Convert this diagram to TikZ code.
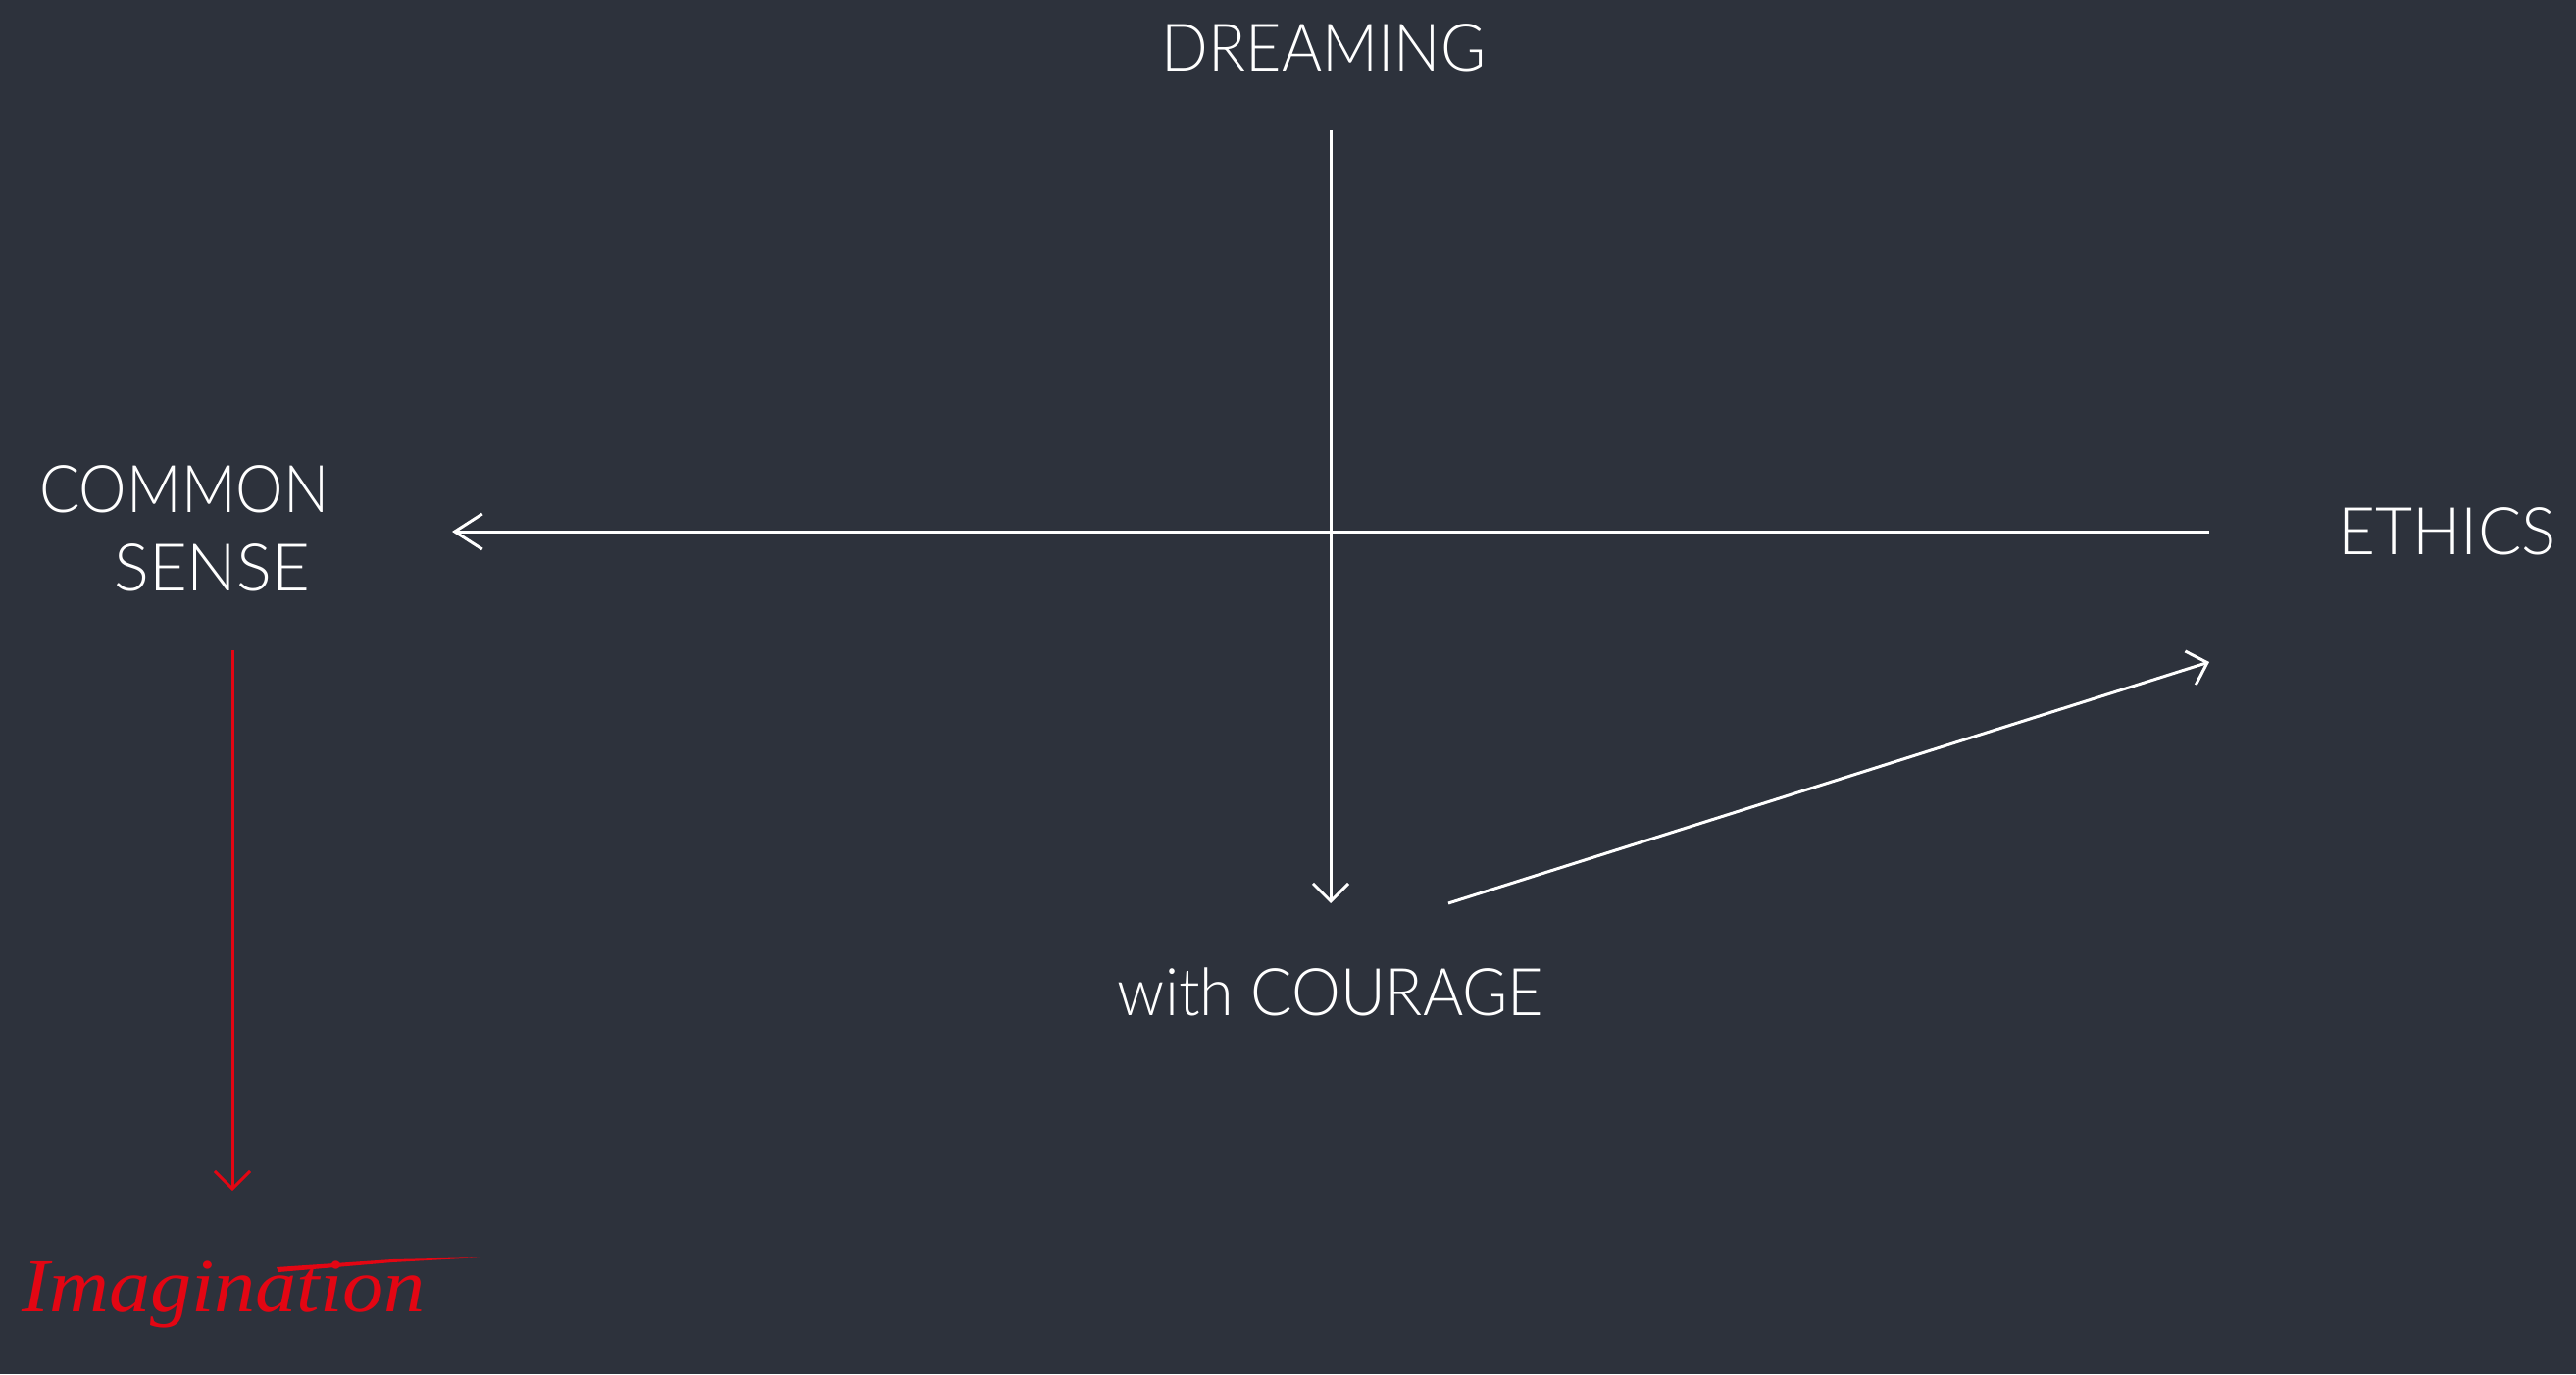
\documentclass[tikz,border=0pt]{standalone}
\usepackage{fontspec}
\setmainfont{Lato Light}
\newfontfamily\imgfont{Liberation Serif}
\usetikzlibrary{arrows.meta}
\definecolor{bg}{HTML}{2D323C}
\definecolor{imgred}{HTML}{E30613}
\tikzset{
  lbl/.style={text=white, inner sep=0pt, font=\fontsize{67}{82}\selectfont},
  wline/.style={draw=white, line width=3pt},
  rline/.style={draw=imgred, line width=3pt},
  tipA/.style={-{Straight Barb[length=18pt, width=36pt, line width=3pt]}},
  tipB/.style={-{Straight Barb[length=28pt, width=36pt, line width=3pt]}},
}
\begin{document}
\begin{tikzpicture}[x=1pt, y=-1pt]
\fill[bg] (0,0) rectangle (2627,1401);
\useasboundingbox (0,0) rectangle (2627,1401);

\node[lbl, anchor=base, xscale=0.937] (dream) at (1350,72) {DREAMING};
\node[lbl, anchor=base west, xscale=0.915] (common) at (40,522) {COMMON};
\node[lbl, anchor=base west] (sense) at (116,602) {SENSE};
\node[lbl, anchor=base west, xscale=0.98] (ethics) at (2384,565) {ETHICS};
\node[lbl, anchor=base, xscale=0.94] (courage) at (1357,1035) {with COURAGE};
\node[text=imgred, inner sep=0pt, anchor=base west, xscale=1.08,
      font=\imgfont\itshape\fontsize{78}{86}\selectfont] (imag) at (22,1337) {Imagination};

\coordinate (vTop) at (1357,133);
\coordinate (vTip) at (1357,921);
\coordinate (hStart) at (2253,542);
\coordinate (hTip) at (461,542);
\coordinate (dStart) at (1477,921);
\coordinate (dTip) at (2253,675);
\coordinate (rTop) at (237,663);
\coordinate (rTip) at (237,1214);

\draw[wline, tipA] (vTop) -- (vTip);
\draw[wline, tipB] (hStart) -- (hTip);
\draw[wline, tipA] (dStart) -- (dTip);
\draw[rline, tipA] (rTop) -- (rTip);

% flourish of the t-bar
\fill[imgred] (282,1292) -- (400,1284) -- (490,1282) -- (400,1287) -- (284,1297) -- cycle;
\end{tikzpicture}
\end{document}
